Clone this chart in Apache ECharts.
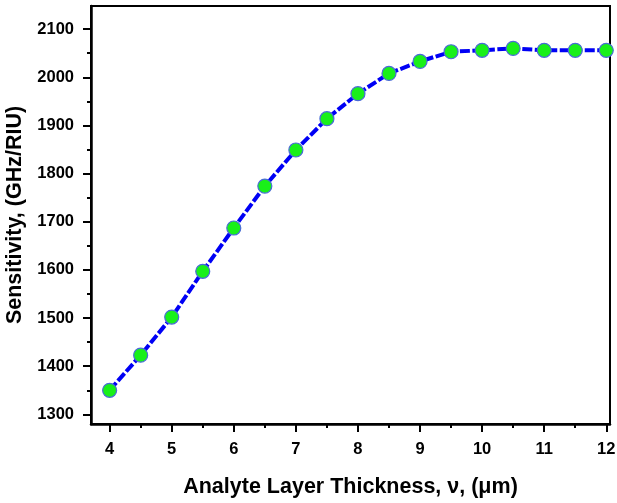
<!DOCTYPE html>
<html>
<head>
<meta charset="utf-8">
<script src="https://cdn.jsdelivr.net/npm/echarts@6/dist/echarts.min.js"></script>
<style>
    html, body { margin: 0; padding: 0; background: #fff; }
    #chart1 { width: 617px; height: 503px; }
</style>
</head>
<body>
<div id="chart1"></div>
<script>
// 数据
var thickness = [4, 4.5, 5, 5.5, 6, 6.5, 7, 7.5, 8, 8.5, 9, 9.5, 10, 10.5, 11, 11.5, 12];
var sensitivity = [1350, 1423, 1502, 1597, 1687, 1774, 1849, 1914, 1966, 2008, 2033, 2053, 2056, 2060, 2056, 2056, 2056];
var xTicks = [4, 5, 6, 7, 8, 9, 10, 11, 12];
var xMinorTicks = [4.5, 5.5, 6.5, 7.5, 8.5, 9.5, 10.5, 11.5];
var yTicks = [1300, 1400, 1500, 1600, 1700, 1800, 1900, 2000, 2100];
var yMinorTicks = [1350, 1450, 1550, 1650, 1750, 1850, 1950, 2050];

var chart1 = echarts.init(document.getElementById('chart1'));
var font = 'Liberation Sans, Arial, sans-serif';
var xMin = 3.7, xMax = 12.06, yMin = 1280, yMax = 2148;

var seriesData = thickness.map(function (x, i) {
    return [x, sensitivity[i]];
});

var option = {
    animation: false,
    grid: {
        left: 91, right: 7, top: 6, bottom: 79,
        outerBoundsMode: 'none',
        containLabel: false,
        show: true,
        borderColor: '#000',
        borderWidth: 2
    },
    xAxis: [{
        type: 'value',
        min: xMin, max: xMax,
        name: 'Analyte Layer Thickness, ν, (μm)',
        nameLocation: 'middle',
        nameGap: 52,
        nameTextStyle: { fontFamily: font, fontWeight: 'bold', fontSize: 21.5, color: '#000' },
        axisLine: { show: true, lineStyle: { color: '#000', width: 2.5 } },
        axisTick: { show: true, length: 8, lineStyle: { color: '#000', width: 2 }, customValues: xTicks },
        axisLabel: { fontFamily: font, fontWeight: 'bold', fontSize: 16.5, color: '#000', margin: 17, customValues: xTicks },
        splitLine: { show: false }
    }, {
        type: 'value',
        position: 'bottom',
        min: xMin, max: xMax,
        axisLine: { show: false },
        axisTick: { show: true, length: 4, lineStyle: { color: '#000', width: 2 }, customValues: xMinorTicks },
        axisLabel: { show: false, customValues: xMinorTicks },
        splitLine: { show: false }
    }],
    yAxis: [{
        type: 'value',
        min: yMin, max: yMax,
        name: 'Sensitivity, (GHz/RIU)',
        nameLocation: 'middle',
        nameGap: 59,
        nameTextStyle: { fontFamily: font, fontWeight: 'bold', fontSize: 21.5, color: '#000' },
        axisLine: { show: true, lineStyle: { color: '#000', width: 2.5 } },
        axisTick: { show: true, length: 8, lineStyle: { color: '#000', width: 2 }, customValues: yTicks },
        axisLabel: {
            fontFamily: font, fontWeight: 'bold', fontSize: 16.5, color: '#000', margin: 17,
            customValues: yTicks,
            formatter: function (v) { return String(v); }
        },
        splitLine: { show: false }
    }, {
        type: 'value',
        position: 'left',
        min: yMin, max: yMax,
        axisLine: { show: false },
        axisTick: { show: true, length: 4, lineStyle: { color: '#000', width: 2 }, customValues: yMinorTicks },
        axisLabel: { show: false, customValues: yMinorTicks },
        splitLine: { show: false }
    }],
    series: [{
        type: 'line',
        data: seriesData,
        symbol: 'circle',
        symbolSize: 14,
        lineStyle: { color: '#0000f5', width: 4, type: [10, 2.5] },
        itemStyle: { color: '#19f019', borderColor: '#4a6ad8', borderWidth: 1.2 },
        z: 3
    }]
};
chart1.setOption(option, true);
</script>
</body>
</html>
